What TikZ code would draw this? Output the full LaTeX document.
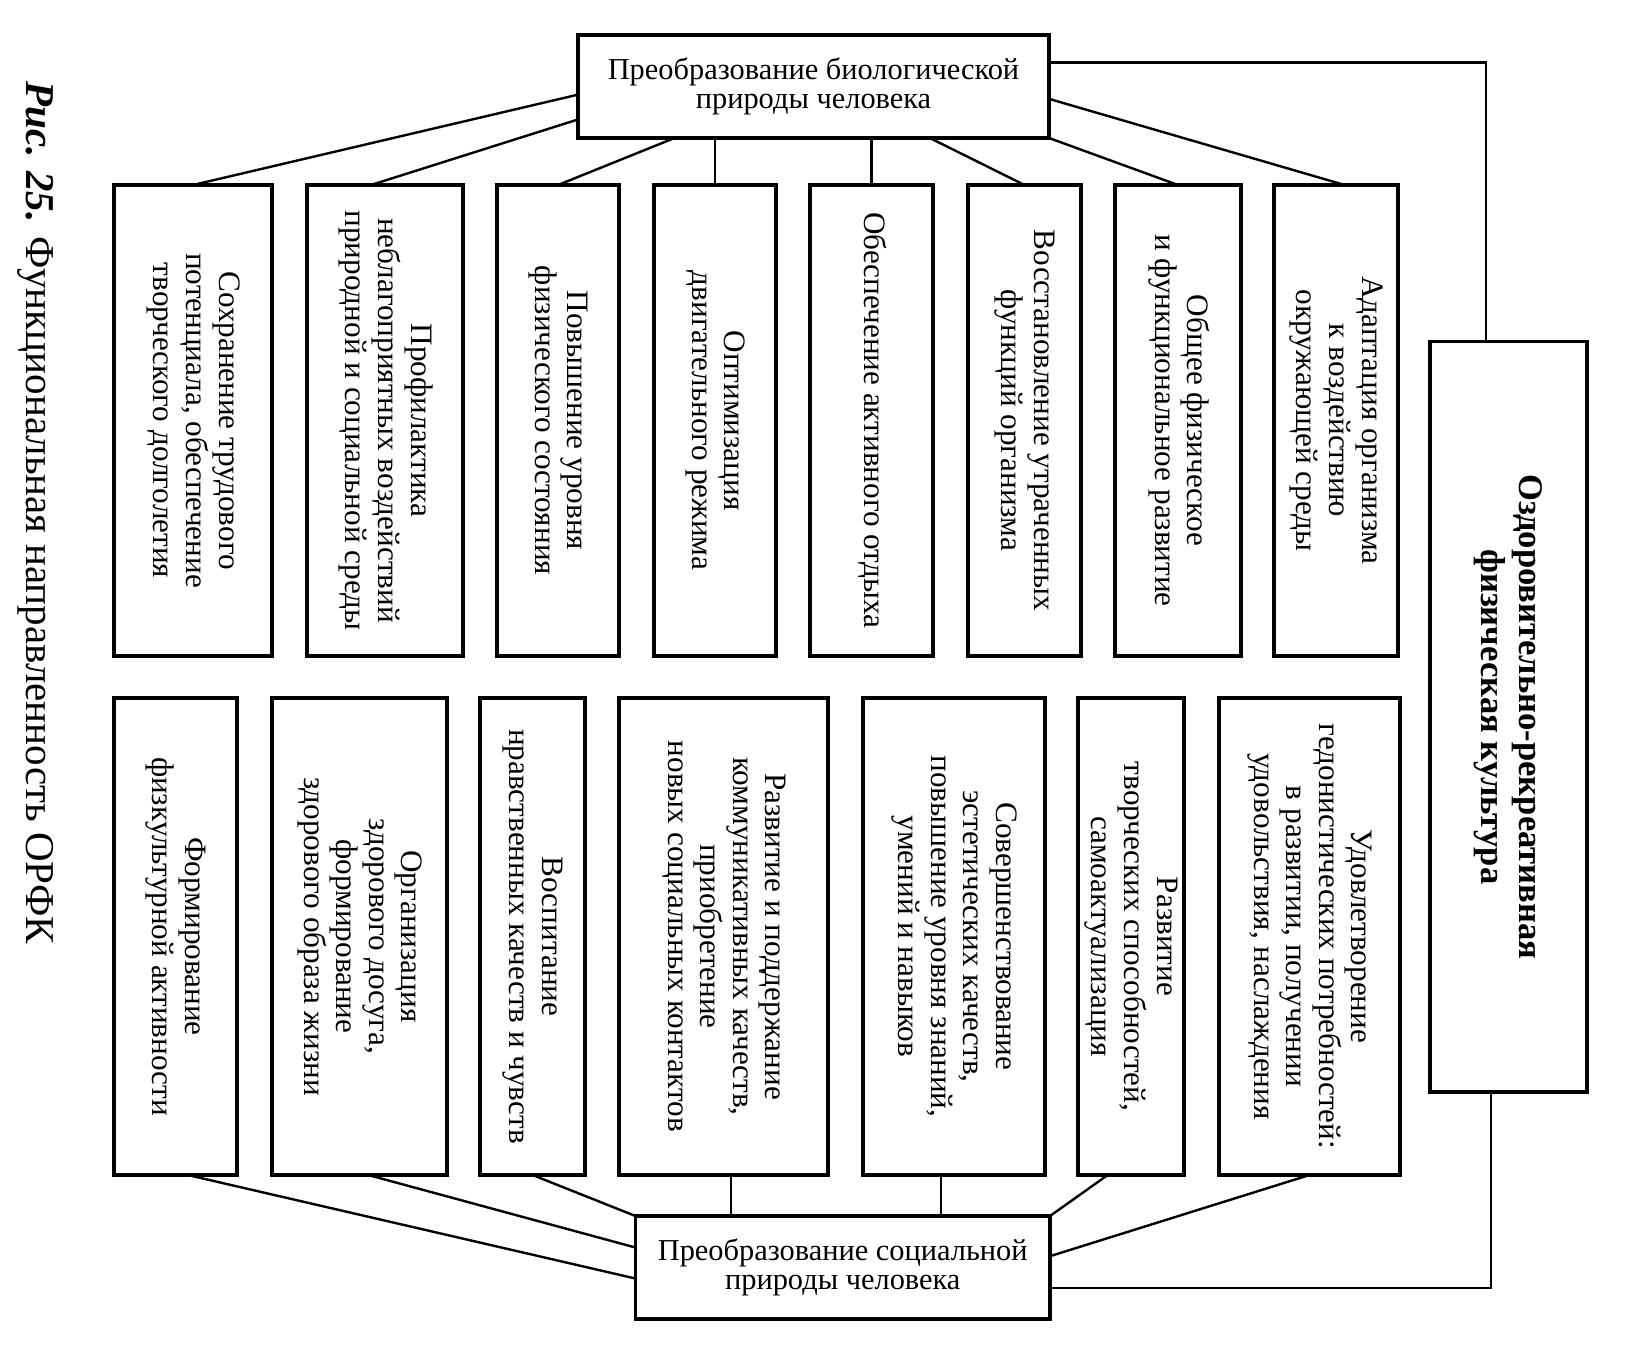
\documentclass[tikz,border=0pt]{standalone}
\usepackage{fontspec}
\setmainfont{Liberation Serif}
\usepackage{graphicx}
\usetikzlibrary{calc}

\newcommand{\vtext}[1]{\rotatebox{-90}{\fontsize{15.6}{16.3}\selectfont\begin{tabular}{@{}c@{}}#1\end{tabular}}}
\newcommand{\vbold}[1]{\rotatebox{-90}{\fontsize{17.3}{19}\selectfont\bfseries\begin{tabular}{@{}c@{}}#1\end{tabular}}}

\tikzset{
  box/.style={draw, line width=1.6pt, rectangle, inner sep=0pt, outer sep=0pt, anchor=north west},
  boxsize/.style 2 args={minimum width=#1*0.5pt, minimum height=#2*0.5pt},
  hbox/.style={box, align=center, font=\fontsize{15.2}{14.6}\selectfont},
  conn/.style={line width=1.2pt},
  caption/.style={rotate=-90, font=\fontsize{20.5}{24}\selectfont}
}

\begin{document}
\begin{tikzpicture}[x=0.5pt, y=-0.5pt]
\fill[white] (0,0) rectangle (1634,1345);
\useasboundingbox (0,0) rectangle (1634,1345);

% caption
\node[caption] (cap) at (36,512.5) {\textbf{\textit{Рис. 25.}} Функциональная направленность ОРФК};

% top and bottom boxes
\node[hbox, boxsize={471}{103}] (T) at (578,35) {Преобразование биологической\\природы человека};
\node[hbox, boxsize={414.5}{103}] (S) at (635.5,1216) {Преобразование социальной\\природы человека};

% upper row
\node[box, boxsize={158}{471}] (U1) at (114,185) {\vtext{Сохранение трудового\\потенциала, обеспечение\\творческого долголетия}};
\node[box, boxsize={156}{471}] (U2) at (307,185) {\vtext{Профилактика\\неблагоприятных воздействий\\природной и социальной среды}};
\node[box, boxsize={122}{471}] (U3) at (497,185) {\vtext{Повышение уровня\\физического состояния}};
\node[box, boxsize={122}{471}] (U4) at (654,185) {\vtext{Оптимизация\\двигательного режима}};
\node[box, boxsize={123}{471}] (U5) at (810,185) {\vtext{Обеспечение активного отдыха}};
\node[box, boxsize={113}{471}] (U6) at (968,185) {\vtext{Восстановление утраченных\\функций организма}};
\node[box, boxsize={126}{471}] (U7) at (1115,185) {\vtext{Общее физическое\\и функциональное развитие}};
\node[box, boxsize={124}{471}] (U8) at (1274,185) {\vtext{Адаптация организма\\к воздействию\\окружающей среды}};

% lower row
\node[box, boxsize={123}{477}] (D1) at (114,698) {\vtext{Формирование\\физкультурной активности}};
\node[box, boxsize={175}{477}] (D2) at (272,698) {\vtext{Организация\\здорового досуга,\\формирование\\здорового образа жизни}};
\node[box, boxsize={105}{477}] (D3) at (480,698) {\vtext{Воспитание\\нравственных качеств и чувств}};
\node[box, boxsize={209}{477}] (D4) at (619,698) {\vtext{Развитие и поддержание\\коммуникативных качеств,\\приобретение\\новых социальных контактов}};
\node[box, boxsize={182}{477}] (D5) at (863,698) {\vtext{Совершенствование\\эстетических качеств,\\повышение уровня знаний,\\умений и навыков}};
\node[box, boxsize={106}{477}] (D6) at (1078,698) {\vtext{Развитие\\творческих способностей,\\самоактуализация}};
\node[box, boxsize={181}{477}] (D7) at (1219,698) {\vtext{Удовлетворение\\гедонистических потребностей:\\в развитии, получении\\удовольствия, наслаждения}};

% right box
\node[box, boxsize={157}{750.5}] (R) at (1430,341.5) {\vbold{Оздоровительно-рекреативная\\физическая культура}};

% upper connectors
\draw[conn] ($(T.north west)!0.579!(T.south west)$) -- (U1.north);
\draw[conn] ($(T.north west)!0.82!(T.south west)$) -- ($(U2.north west)!0.41!(U2.north east)$);
\draw[conn] ($(T.south west)!0.205!(T.south east)$) -- (U3.north);
\draw[conn] (U4.north) -- (U4.north |- T.south);
\draw[conn] (U5.north) -- (U5.north |- T.south);
\draw[conn] ($(T.south west)!0.747!(T.south east)$) -- (U6.north);
\draw[conn] (T.south east) -- (U7.north);
\draw[conn] ($(T.north east)!0.62!(T.south east)$) -- ($(U8.north west)!0.57!(U8.north east)$);
\draw[conn] ($(T.north east)!0.267!(T.south east)$) -| ($(R.north west)!0.357!(R.north east)$);

% lower connectors
\draw[conn] ($(D1.south west)!0.6!(D1.south east)$) -- ($(S.north west)!0.607!(S.south west)$);
\draw[conn] ($(D2.south west)!0.55!(D2.south east)$) -- ($(S.north west)!0.306!(S.south west)$);
\draw[conn] (D3.south) -- (S.north west);
\coordinate (d4) at ($(D4.south west)!0.537!(D4.south east)$);
\draw[conn] (d4) -- (d4 |- S.north);
\coordinate (d5) at ($(D5.south west)!0.43!(D5.south east)$);
\draw[conn] (d5) -- (d5 |- S.north);
\draw[conn] ($(D6.south west)!0.28!(D6.south east)$) -- (S.north east);
\draw[conn] (D7.south) -- ($(S.north east)!0.39!(S.south east)$);
\draw[conn] ($(R.south west)!0.39!(R.south east)$) |- ($(S.north east)!0.70!(S.south east)$);
\end{tikzpicture}
\end{document}
